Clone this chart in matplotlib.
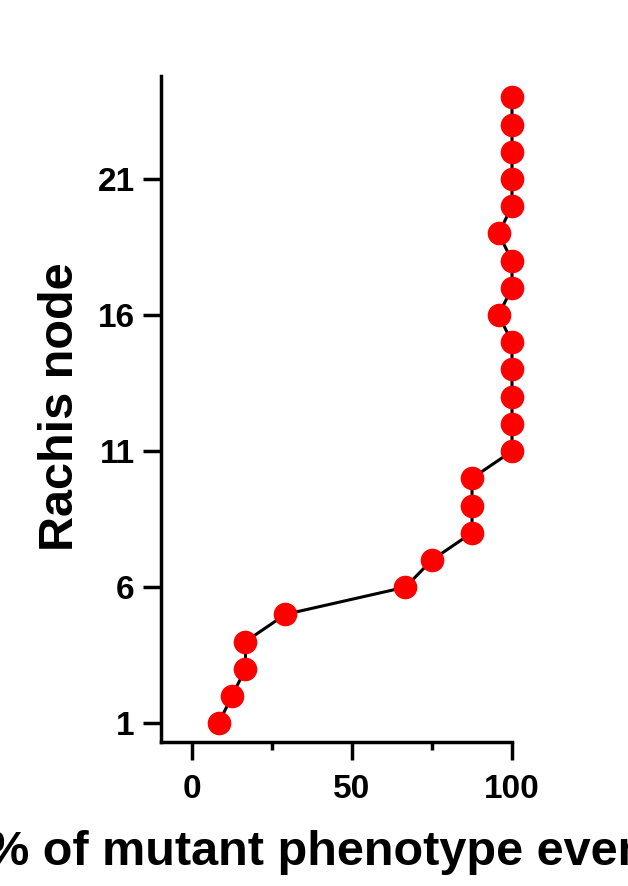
import matplotlib
matplotlib.use("Agg")
import matplotlib.pyplot as plt
from matplotlib.ticker import MultipleLocator

plt.rcParams['font.family'] = ['Liberation Sans', 'DejaVu Sans']
plt.rcParams['font.weight'] = 'bold'

# rachis node vs % of mutant phenotype events
nodes = list(range(1, 25))
pct_mutant = [8.3, 12.5, 16.7, 16.7, 29.2, 66.7, 75.0, 87.5, 87.5, 87.5,
              100, 100, 100, 100, 100, 95.8, 100, 100, 95.8, 100,
              100, 100, 100, 100]
y_ticks = [1, 6, 11, 16, 21]
x_ticks = [0, 50, 100]

fig = plt.figure(figsize=(6.28, 8.86), dpi=100)
ax = fig.add_axes([0.2564, 0.1629, 0.8153 - 0.2564, 0.9137 - 0.1629])

ax.plot(pct_mutant, nodes, color='black', lw=2.2, marker='o',
        markersize=16, markerfacecolor='#ff0000', markeredgecolor='#ff0000',
        clip_on=False, zorder=3)

ax.set_xlim(-9.7, 100)
ax.set_ylim(0.32, 24.77)
ax.set_xticks(x_ticks)
ax.xaxis.set_minor_locator(MultipleLocator(25))
ax.set_yticks(y_ticks)

for side in ['top', 'right']:
    ax.spines[side].set_visible(False)
for side in ['left', 'bottom']:
    ax.spines[side].set_linewidth(2.5)

ax.tick_params(axis='both', which='major', length=13, width=2.5,
               labelsize=24, pad=6)
ax.tick_params(axis='x', which='major', pad=10)
ax.tick_params(axis='x', which='minor', length=6, width=2.5)
for lbl in ax.get_xticklabels() + ax.get_yticklabels():
    lbl.set_fontweight('bold')

# the x label runs past both figure edges, as in the original
fig.text(0.097, 0.5406, 'Rachis node', rotation=90, ha='center',
         va='center', fontsize=35, fontweight='bold')
fig.text(0.538, 1 - 865 / 886, '% of mutant phenotype events',
         ha='center', va='baseline', fontsize=35, fontweight='bold')

fig.savefig('out.png', dpi=100)
